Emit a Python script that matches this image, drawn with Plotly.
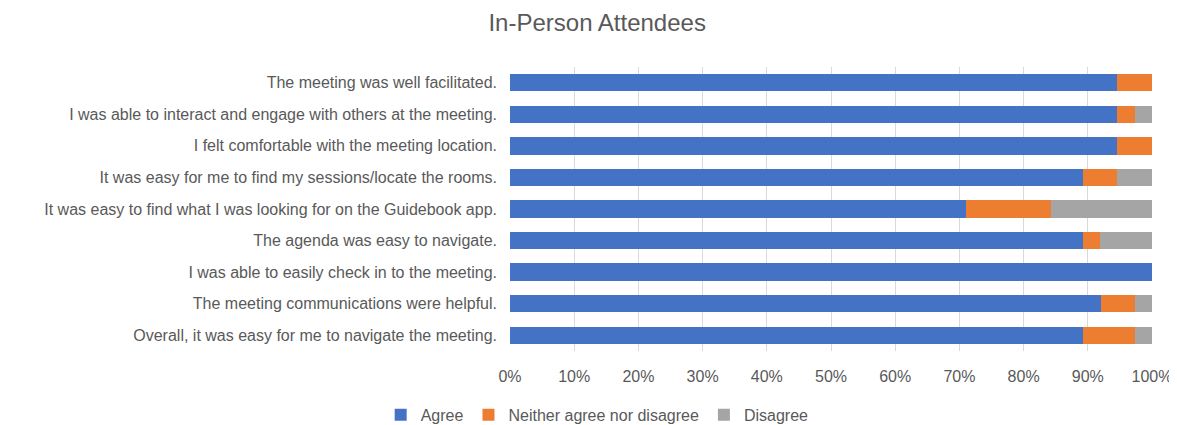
import plotly.graph_objects as go

questions = [
    "The meeting was well facilitated.",
    "I was able to interact and engage with others at the meeting.",
    "I felt comfortable with the meeting location.",
    "It was easy for me to find my sessions/locate the rooms.",
    "It was easy to find what I was looking for on the Guidebook app.",
    "The agenda was easy to navigate.",
    "I was able to easily check in to the meeting.",
    "The meeting communications were helpful.",
    "Overall, it was easy for me to navigate the meeting.",
]
agree = [94.6, 94.6, 94.6, 89.2, 71.1, 89.2, 100.0, 92.1, 89.2]
neither = [5.4, 2.7, 5.4, 5.4, 13.2, 2.7, 0.0, 5.3, 8.1]
disagree = [0.0, 2.7, 0.0, 5.4, 15.7, 8.1, 0.0, 2.6, 2.7]

series = [
    ("Agree", agree, "#4472C4"),
    ("Neither agree nor disagree", neither, "#ED7D31"),
    ("Disagree", disagree, "#A5A5A5"),
]

font_family = "Liberation Sans, Arial"
grey = "#595959"

fig = go.Figure()
for name, vals, col in series:
    fig.add_trace(go.Bar(
        y=questions, x=vals, name=name, orientation="h",
        marker=dict(color=col, line=dict(width=0)),
        hovertemplate="%{y}<br>" + name + ": %{x:.1f}%<extra></extra>",
    ))

# the page body adds an 8px margin, so the figure is a little smaller
fig.update_layout(
    barmode="stack",
    bargap=0.45,
    width=1169, height=417,
    margin=dict(l=502, r=25, t=59, b=74, autoexpand=False),
    plot_bgcolor="white", paper_bgcolor="white",
    font=dict(family=font_family, size=16, color=grey),
    title=dict(text="In-Person Attendees", x=0.504, xanchor="center",
               y=0.966, yanchor="middle",
               font=dict(size=24, color=grey)),
    legend=dict(orientation="h", xref="container", x=0.504, xanchor="center",
                yref="paper", y=-0.225, yanchor="middle",
                font=dict(size=16, color=grey), traceorder="normal",
                itemwidth=30),
    xaxis=dict(range=[0, 100], dtick=10, ticksuffix="%", automargin=False,
               showgrid=True, gridcolor="#D9D9D9", gridwidth=1,
               zeroline=False, showline=False, ticks="", ticklabelstandoff=14),
    yaxis=dict(autorange="reversed", showgrid=False, showline=False,
               automargin=False, ticks="", ticklabelstandoff=12),
)

fig.write_html("out.html")
